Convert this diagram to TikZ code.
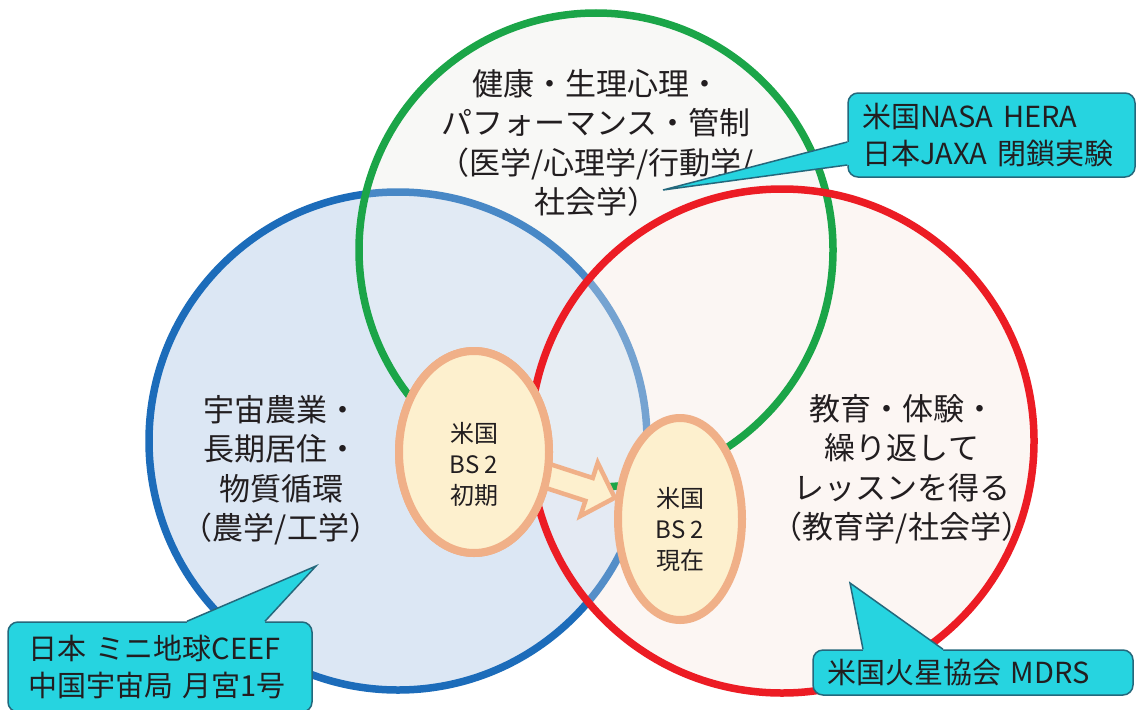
\documentclass[tikz,border=0pt]{standalone}
\usepackage{fontspec}
\setmainfont{Noto Sans CJK JP}
\usetikzlibrary{shapes.geometric,calc}
\definecolor{cgreen}{RGB}{27,165,72}
\definecolor{cblue}{RGB}{28,108,186}
\definecolor{cred}{RGB}{236,28,36}
\definecolor{bluefill}{RGB}{220,231,244}
\definecolor{redfill}{RGB}{252,246,243}
\definecolor{greenfill}{RGB}{248,248,246}
\definecolor{eline}{RGB}{240,176,136}
\definecolor{efill}{RGB}{253,240,206}
\definecolor{cfill}{RGB}{38,212,224}
\definecolor{cline}{RGB}{36,104,124}
\definecolor{txt}{RGB}{34,30,32}
\begin{document}
\begin{tikzpicture}[x=1pt,y=-1pt,
  bigtext/.style={align=center,inner sep=0pt,text=txt,font=\fontsize{31}{39.5}\selectfont},
  smalltext/.style={align=center,inner sep=0pt,text=txt,font=\fontsize{24}{31}\selectfont},
  callout/.style={draw=cline,line width=1.5pt,fill=cfill,rounded corners=10pt,align=left,inner ysep=0pt,text=txt,font=\fontsize{29}{37.5}\selectfont},
  tailfill/.style={fill=cfill},
  tailline/.style={draw=cline,line width=1.5pt,line join=miter},
  bubble/.style={ellipse,draw=eline,fill=efill,line width=8pt,inner sep=0pt},
  ring/.style={line width=7.5pt},
]
\useasboundingbox (0,0) rectangle (1139,709);
\fill[white] (0,0) rectangle (1139,709);

% circle centres
\coordinate (cb) at (398,441);
\coordinate (cg) at (596,250);
\coordinate (cr) at (782,441);

% fills
\fill[greenfill] (cg) circle[radius=237];
\fill[redfill] (cr) circle[radius=252];
\fill[bluefill] (cb) circle[radius=249];
\draw[ring,cblue] (cb) circle[radius=249];
\fill[greenfill,fill opacity=0.2] (cg) circle[radius=237];
\fill[redfill,fill opacity=0.25] (cr) circle[radius=252];
\draw[ring,cgreen] (cg) circle[radius=237];
\draw[ring,cred] (cr) circle[radius=252];

% bubbles and arrow
\node[bubble,minimum width=150pt,minimum height=202pt] (e1) at (474,452) {};
\begin{scope}[shift={($(e1.center)!0.36!(680,519)$)},rotate=-18]
\draw[eline,fill=efill,line width=4.5pt,line join=miter]
  (-14,-12) -- (43,-12) -- (43,-28) -- (70,0) -- (43,28) -- (43,12) -- (-14,12) -- cycle;
\end{scope}
\node[bubble,minimum width=150pt,minimum height=202pt] (e1b) at (474,452) {};
\node[bubble,minimum width=124pt,minimum height=202pt] (e2) at (680,519) {};

% texts
\node[bigtext] (tg) at (596,143) {健康・生理心理・\\パフォーマンス・管制\\（医学/心理学/行動学/\\社会学）};
\node[bigtext] (tb) at (281,470) {宇宙農業・\\長期居住・\\物質循環\\（農学/工学）};
\node[bigtext] (tr) at (902,469) {教育・体験・\\繰り返して\\レッスンを得る\\（教育学/社会学）};
\node[smalltext] (t1) at (474,464) {米国\\BS 2\\初期};
\node[smalltext] (t2) at (680,529) {米国\\BS 2\\現在};

% callouts
\node[callout,text width=259pt,inner xsep=14pt,minimum height=84pt] (n1) at (991.5,135) {\mbox{米国NASA HERA}\\\mbox{日本JAXA 閉鎖実験}};
\coordinate (p1) at (663,190);
\fill[tailfill] (p1) -- ($(n1.west)+(0,7)$) -- ++(4,0) -- ($(n1.west)+(4,30)$) -- ++(-4,0) -- cycle;
\draw[tailline] ($(n1.west)+(0,7)$) -- (p1) -- ($(n1.west)+(0,30)$);

\node[callout,text width=264pt,inner xsep=20pt,minimum height=90pt] (n2) at (160,667) {\mbox{日本 ミニ地球CEEF}\\\mbox{中国宇宙局 月宮1号}};
\coordinate (p2) at (316,566);
\fill[tailfill] (p2) -- ($(n2.north)+(105,0)$) -- ++(0,4) -- ($(n2.north)+(27,4)$) -- ++(0,-4) -- cycle;
\draw[tailline] ($(n2.north)+(27,0)$) -- (p2) -- ($(n2.north)+(105,0)$);

\node[callout,text width=292pt,inner xsep=14pt,minimum height=45pt] (n3) at (973,672.5) {\mbox{米国火星協会 MDRS}};
\coordinate (p3) at (850,583);
\fill[tailfill] (p3) -- ($(n3.north)+(-30,0)$) -- ++(0,4) -- ($(n3.north)+(-110,4)$) -- ++(0,-4) -- cycle;
\draw[tailline] ($(n3.north)+(-110,0)$) -- (p3) -- ($(n3.north)+(-30,0)$);
\end{tikzpicture}
\end{document}
